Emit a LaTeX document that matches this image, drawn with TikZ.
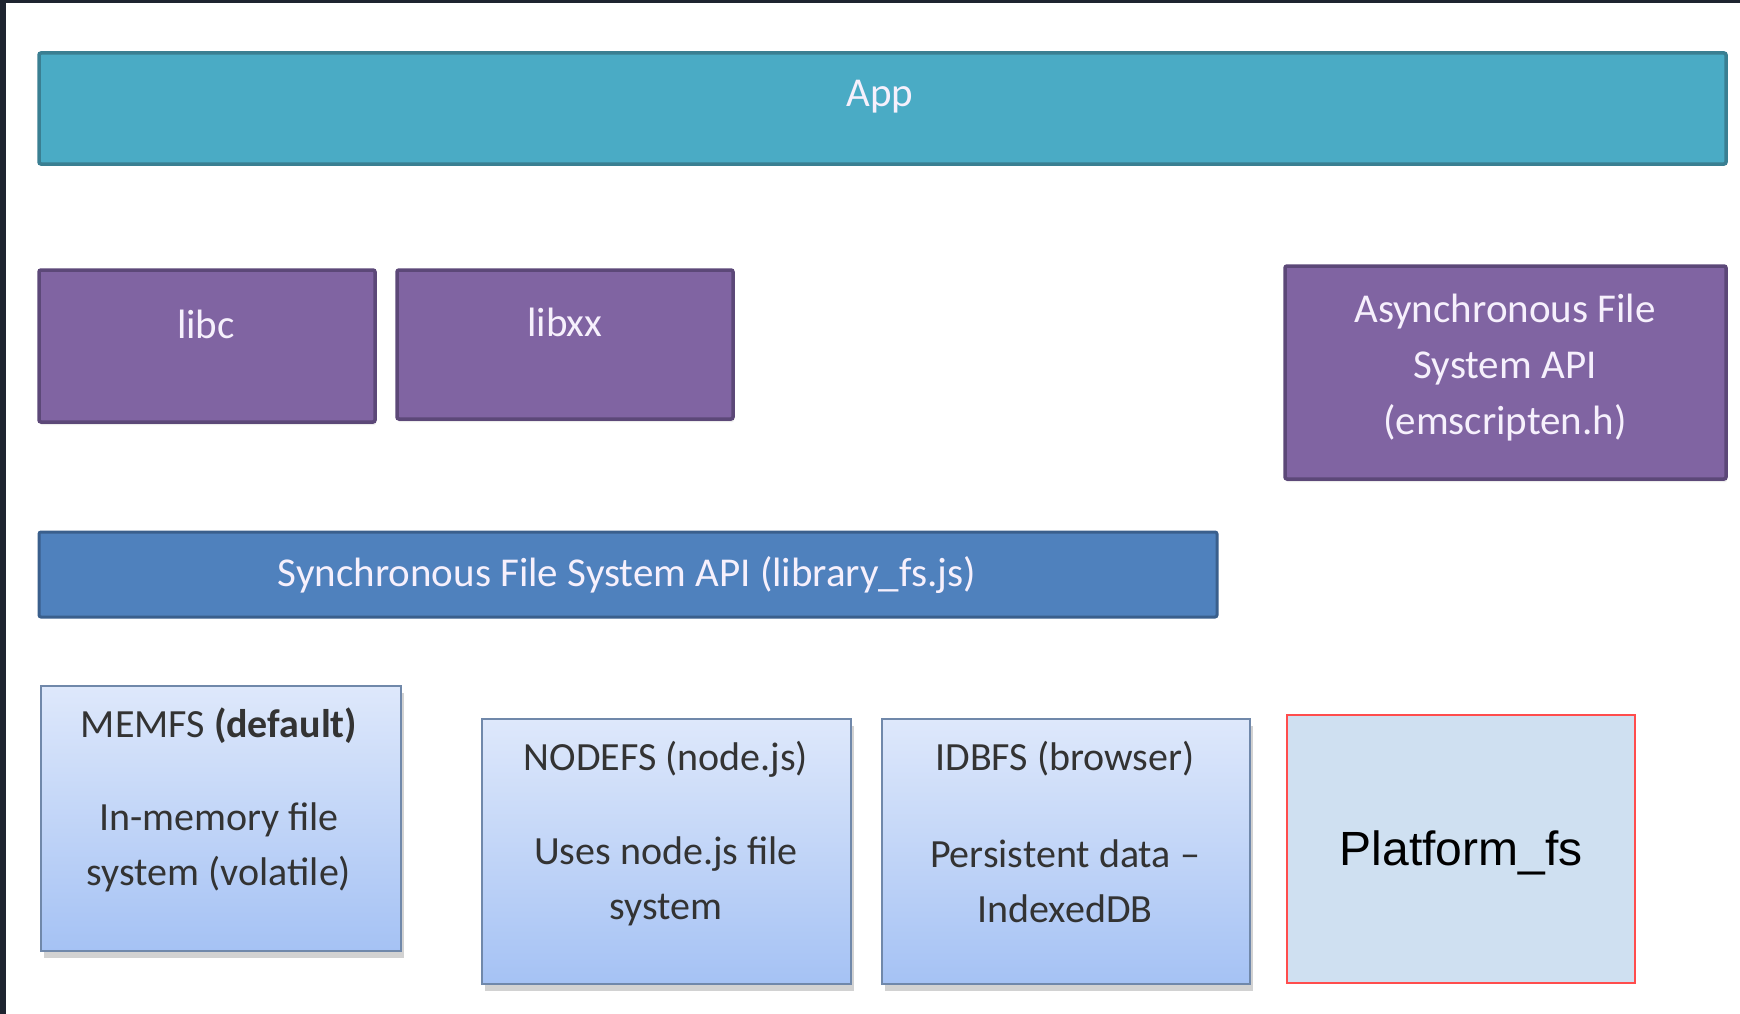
\documentclass[tikz,border=0pt]{standalone}
\usepackage{fontspec}
\setmainfont{Carlito}
\newfontfamily\arialfont{Liberation Sans}
\usetikzlibrary{shadows}
\definecolor{framecol}{HTML}{1E2430}
\definecolor{appfill}{HTML}{4AABC5}
\definecolor{appdraw}{HTML}{3A7F92}
\definecolor{purfill}{HTML}{8064A2}
\definecolor{purdraw}{HTML}{5C4878}
\definecolor{syncfill}{HTML}{4F81BD}
\definecolor{syncdraw}{HTML}{3A5F8C}
\definecolor{lighttop}{HTML}{DEE8FB}
\definecolor{lightbot}{HTML}{A5C2F4}
\definecolor{lightdraw}{HTML}{7088AA}
\definecolor{platfill}{HTML}{CFE0F1}
\definecolor{platdraw}{HTML}{FF4D4D}
\definecolor{darktext}{HTML}{333333}
\definecolor{lighttext}{HTML}{F6F0FC}
\begin{document}
\begin{tikzpicture}[x=1pt,y=-1pt,
  basebox/.style={rectangle, inner sep=0pt, outer sep=0pt},
  appbox/.style={basebox, draw=appdraw, fill=appfill, line width=3.5pt, rounded corners=2pt},
  purbox/.style={basebox, draw=purdraw, fill=purfill, line width=3.5pt, rounded corners=2pt,
    drop shadow={shadow xshift=1pt, shadow yshift=-3pt, opacity=0.15}},
  syncbox/.style={basebox, draw=syncdraw, fill=syncfill, line width=3pt, rounded corners=2pt},
  fsbox/.style={basebox, draw=lightdraw, line width=2pt, top color=lighttop, bottom color=lightbot,
    drop shadow={shadow xshift=3pt, shadow yshift=-7pt, opacity=0.35}},
  platbox/.style={basebox, draw=platdraw, fill=platfill, line width=2.5pt},
  whitetxt/.style={text=lighttext, font=\fontsize{41}{56}\selectfont, align=center, inner sep=0pt},
  greytxt/.style={text=darktext, font=\fontsize{40}{55}\selectfont, align=center, inner sep=0pt},
  plattxt/.style={text=black, font=\arialfont\fontsize{48}{56}\selectfont, inner sep=0pt}
]
\fill[framecol] (0,0) rectangle (1740,1014);
\fill[white] (6,3) rectangle (1740,1014);

% App
\node[appbox, minimum width=1687pt, minimum height=111pt] (app) at (882.5,108.5) {};
\node[whitetxt] (appT) at (880,97) {App};

% libc / libxx
\node[purbox, minimum width=336pt, minimum height=152pt] (libc) at (207,346) {};
\node[whitetxt] (libcT) at (206,324) {libc};
\node[purbox, minimum width=336pt, minimum height=149pt] (libxx) at (565,344.5) {};
\node[whitetxt] (libxxT) at (565,322) {libxx};

% Async
\node[purbox, minimum width=441pt, minimum height=213pt] (async) at (1505.5,372.5) {};
\node[whitetxt] (asyncT) at (1505,368) {Asynchronous File\\System API\\(emscripten.h)};

% Sync
\node[syncbox, minimum width=1178pt, minimum height=85pt] (sync) at (628,574.5) {};
\node[whitetxt] (syncT) at (627,575) {Synchronous File System API (library\_fs.js)};

% MEMFS
\node[fsbox, minimum width=360pt, minimum height=265pt] (memfs) at (221,818.5) {};
\node[greytxt] (memfsT) at (219,726) {MEMFS \textbf{(default)}};
\node[greytxt] (memfsB) at (219,847) {In-memory file\\system (volatile)};

% NODEFS
\node[fsbox, minimum width=369pt, minimum height=265pt] (nodefs) at (666.5,851.5) {};
\node[greytxt] (nodefsT) at (666,759) {NODEFS (node.js)};
\node[greytxt] (nodefsB) at (666,881) {Uses node.js file\\system};

% IDBFS
\node[fsbox, minimum width=368pt, minimum height=265pt] (idbfs) at (1066,851.5) {};
\node[greytxt] (idbfsT) at (1065,759) {IDBFS (browser)};
\node[greytxt] (idbfsB) at (1065,881) {Persistent data --\\IndexedDB};

% Platform_fs
\node[platbox, minimum width=348pt, minimum height=268pt] (plat) at (1461,849) {};
\node[plattxt] (platT) at (1461,853) {Platform\_fs};
\end{tikzpicture}
\end{document}
